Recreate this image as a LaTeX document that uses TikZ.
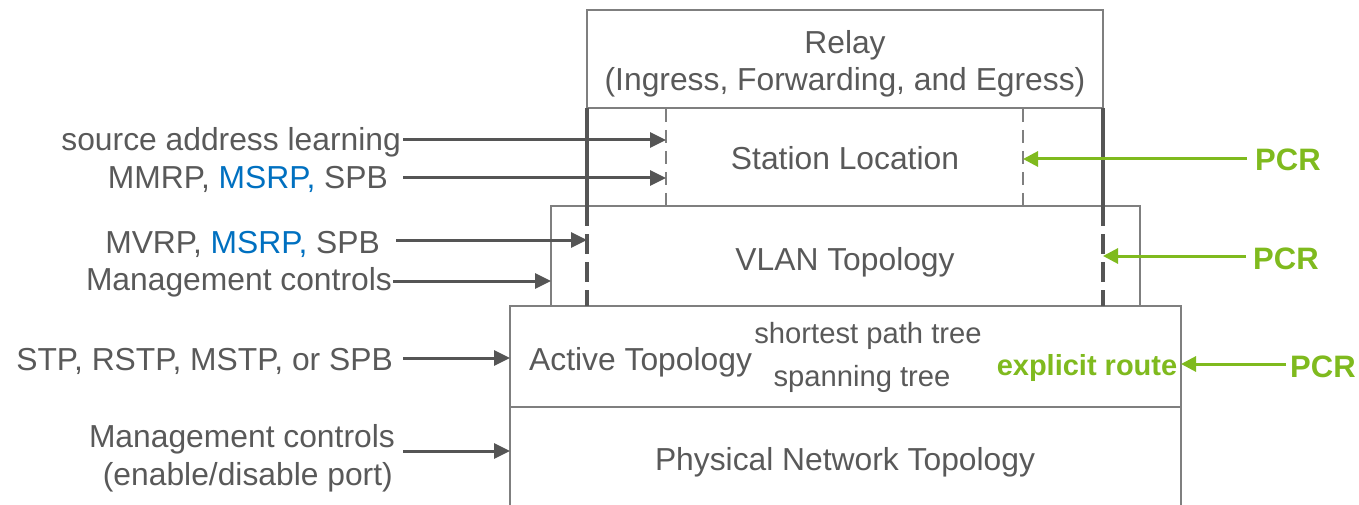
\documentclass[tikz,border=0pt]{standalone}
\usepackage{fontspec}
\setmainfont{Liberation Sans}
\usetikzlibrary{arrows.meta}
\definecolor{txt}{HTML}{595959}
\definecolor{boxc}{HTML}{7F7F7F}
\definecolor{dark}{HTML}{555555}
\definecolor{grn}{HTML}{7FBA1E}
\definecolor{blu}{HTML}{0070C0}
\begin{document}
\begin{tikzpicture}[x=1pt,y=-1pt,
  lab/.style={text=txt, font=\fontsize{31.8}{37}\selectfont, inner sep=0pt},
  small/.style={text=txt, font=\fontsize{29.2}{35}\selectfont, inner sep=0pt},
  pcr/.style={text=grn, font=\fontsize{31}{37}\selectfont\bfseries, inner sep=0pt},
  boxline/.style={draw=boxc, line width=2.4pt},
  thickline/.style={draw=dark, line width=3.6pt},
  stdash/.style={draw=boxc, line width=2.2pt, dash pattern=on 13pt off 8pt},
  arr/.style={draw=dark, line width=3pt, -{Triangle[length=16pt,width=15pt]}},
  garr/.style={draw=grn, line width=3pt, -{Triangle[length=15pt,width=15pt]}}]
\useasboundingbox (0,0) rectangle (1359,505);
% boxes
\draw[boxline] (587,10) rectangle (1103,108);
\draw[boxline] (551,206) rectangle (1140,306);
\draw[boxline] (510,306) rectangle (1181,407);
\draw[boxline] (510,407) -- (510,508) (1181,407) -- (1181,508);
% station location boundaries
\draw[stdash] (666,109) -- (666,206);
\draw[stdash] (1023,109) -- (1023,206);
\draw[thickline] (587,108) -- (587,206) (1103,108) -- (1103,206);
\draw[thickline, dash pattern=on 20pt off 8pt] (587,206) -- (587,306);
\draw[thickline, dash pattern=on 20pt off 8pt] (1103,206) -- (1103,306);
% box texts
\node[lab, anchor=base] (relay) at (845,54) {Relay};
\node[lab, anchor=base] (relay2) at (845,91) {(Ingress, Forwarding, and Egress)};
\node[lab, anchor=base] (station) at (845,170) {Station Location};
\node[lab, anchor=base] (vlan) at (845,270) {VLAN Topology};
\node[lab, anchor=base west] (active) at (529,370) {Active Topology};
\node[small, anchor=base] (spt) at (868,343) {shortest path tree};
\node[small, anchor=base] (st) at (862,386) {spanning tree};
\node[small, anchor=base, text=grn, font=\fontsize{29}{35}\selectfont\bfseries] (er) at (1087,375) {explicit route};
\node[lab, anchor=base] (phys) at (845,470) {Physical Network Topology};
% left labels
\node[lab, anchor=base east] (l1) at (401,151) {source address learning};
\node[lab, anchor=base east] (l2) at (388,189) {MMRP, \textcolor{blu}{MSRP,} SPB};
\node[lab, anchor=base east] (l3) at (380,253) {MVRP, \textcolor{blu}{MSRP,} SPB};
\node[lab, anchor=base east] (l4) at (392,290) {Management controls};
\node[lab, anchor=base east] (l5) at (393,370) {STP, RSTP, MSTP, or SPB};
\node[lab, anchor=base east] (l6) at (395,447) {Management controls};
\node[lab, anchor=base east] (l7) at (393,485) {(enable/disable port)};
% right labels
\node[pcr, anchor=base west] (p1) at (1255,171) {PCR};
\node[pcr, anchor=base west] (p2) at (1253,269) {PCR};
\node[pcr, anchor=base west] (p3) at (1290,377) {PCR};
% connector ends
\coordinate (s1) at (403,140); \coordinate (t1) at (666,140);
\coordinate (s2) at (403,178); \coordinate (t2) at (666,178);
\coordinate (s3) at (396,240); \coordinate (t3) at (587,240);
\coordinate (s4) at (393,281); \coordinate (t4) at (551,281);
\coordinate (s5) at (403,358); \coordinate (t5) at (510,358);
\coordinate (s6) at (403,451); \coordinate (t6) at (510,451);
\coordinate (g1) at (1247,159); \coordinate (h1) at (1023,159);
\coordinate (g2) at (1246,256); \coordinate (h2) at (1103,256);
\coordinate (g3) at (1286,364); \coordinate (h3) at (1181,364);
\draw[arr] (s1) -- (t1);
\draw[arr] (s2) -- (t2);
\draw[arr] (s3) -- (t3);
\draw[arr] (s4) -- (t4);
\draw[arr] (s5) -- (t5);
\draw[arr] (s6) -- (t6);
\draw[garr] (g1) -- (h1);
\draw[garr] (g2) -- (h2);
\draw[garr] (g3) -- (h3);
\end{tikzpicture}
\end{document}
